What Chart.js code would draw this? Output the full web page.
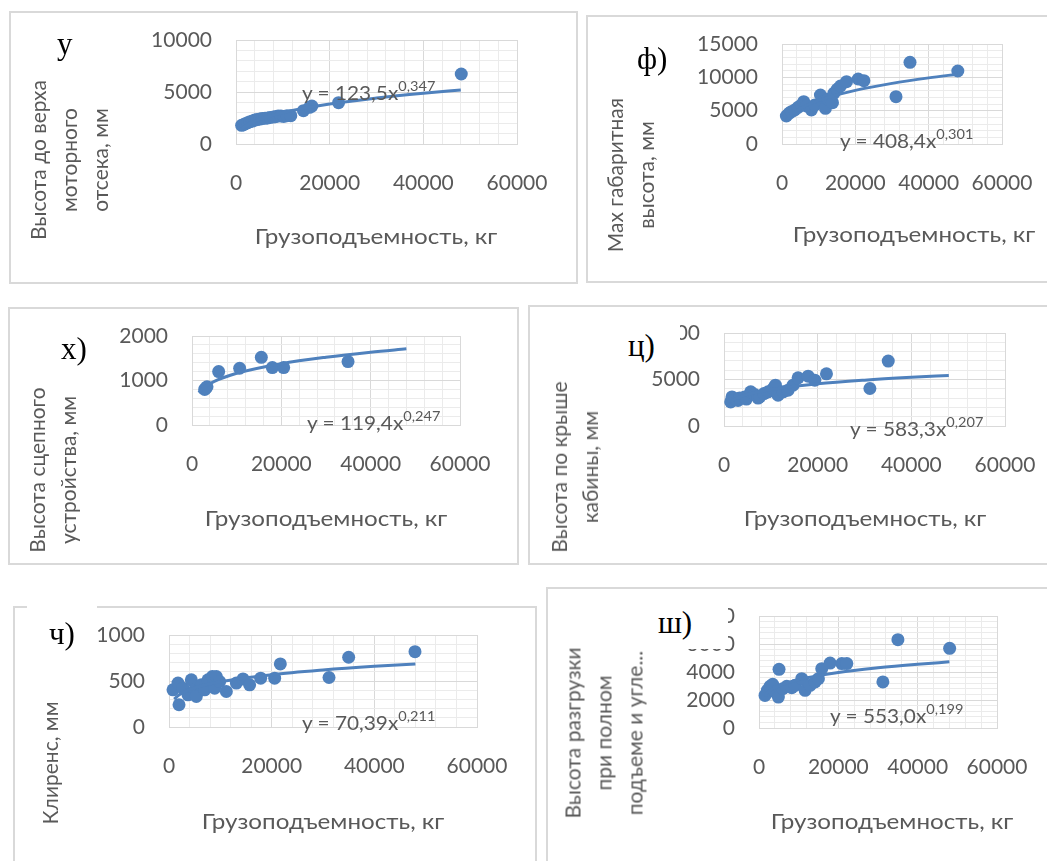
<!DOCTYPE html>
<html>
<head>
<meta charset="utf-8">
<script src="https://cdn.jsdelivr.net/npm/chart.js@4.4.1/dist/chart.umd.min.js"></script>
<style>
  body { margin: 0; width: 1047px; height: 861px; overflow: hidden; background: #fff; position: relative;
         font-family: Lato, 'Noto Sans', sans-serif; color: #595959; }
  .panel { position: absolute; border: 2px solid #d9d9d9; box-sizing: border-box; }
  canvas { position: absolute; }
  .ytitle { position: absolute; transform: translate(-50%, -50%) rotate(-90deg); white-space: nowrap;
            text-align: center; font-size: 21px; line-height: 31px; }
  .xtitle { position: absolute; transform: translate(-50%, -50%) scaleX(1.1); white-space: nowrap; font-size: 22px; }
  .eq { position: absolute; transform: translateY(-50%) scaleX(1.04); transform-origin: left center;
        white-space: nowrap; font-size: 20px; }
  .eq sup { font-size: 14px; vertical-align: baseline; position: relative; top: -9px; }
  .mask { position: absolute; background: #fff; }
  .letter { position: absolute; font-family: 'Liberation Serif', 'DejaVu Serif', serif; font-size: 31px;
            line-height: 31px; color: #000; white-space: nowrap; }
</style>
</head>
<body>
<script>
const xTickLabels = [0, 20000, 40000, 60000];

// у) высота до верха моторного отсека
const p1Load = [1200, 1600, 2000, 2500, 3000, 3500, 4000, 4500, 5100, 5600, 6200, 6800, 7300, 8000, 8400, 9000, 9600, 10200, 10900, 11700, 14400, 15700, 16200, 21900, 48100];
const p1Value = [1800, 1850, 1950, 2050, 2150, 2200, 2300, 2350, 2400, 2450, 2470, 2500, 2560, 2600, 2630, 2700, 2690, 2650, 2720, 2720, 3200, 3530, 3650, 3970, 6730];
const p1TrendLoad = [1200, 2000, 3000, 5000, 10000, 20000, 30000, 40000, 48000];
const p1TrendValue = [1446, 1726, 1987, 2373, 3017, 3838, 4418, 4883, 5200];
const p1YTicks = [0, 5000, 10000];

// ф) max габаритная высота
const p2Load = [1190, 1910, 2550, 3460, 4380, 5290, 5930, 6650, 8020, 8930, 10480, 11210, 11850, 12580, 13770, 14130, 15040, 15950, 17600, 20780, 22330, 31090, 34910, 47950];
const p2Value = [4200, 4600, 4850, 5100, 5500, 5850, 6350, 5700, 5100, 5850, 7350, 6350, 5350, 6700, 6200, 7600, 8200, 8700, 9350, 9750, 9500, 7100, 12250, 10950];
const p2TrendLoad = [1200, 2000, 3000, 5000, 10000, 20000, 30000, 40000, 48000];
const p2TrendValue = [3451, 4025, 4546, 5302, 6532, 8049, 9094, 9917, 10475];
const p2YTicks = [0, 5000, 10000, 15000];

// х) высота сцепного устройства
const p3Load = [2840, 3060, 3360, 5970, 10670, 15520, 17990, 20520, 34930];
const p3Value = [800, 825, 860, 1200, 1275, 1520, 1290, 1290, 1425];
const p3TrendLoad = [1500, 2000, 3000, 5000, 10000, 20000, 30000, 40000, 48000];
const p3TrendValue = [727, 780, 863, 979, 1162, 1378, 1523, 1636, 1711];
const p3YTicks = [0, 1000, 2000];

// ц) высота по крыше кабины
const p4Load = [1430, 1710, 2420, 2990, 3350, 4420, 4780, 5700, 6560, 7270, 7630, 8550, 9410, 10480, 10980, 11550, 12620, 13680, 14750, 15820, 17960, 19390, 21880, 31150, 35070];
const p4Value = [2590, 3130, 2880, 2750, 3020, 3130, 2900, 3670, 3380, 3000, 3130, 3490, 3670, 4030, 4390, 3310, 3670, 3850, 4390, 5180, 5360, 4930, 5610, 4030, 6980];
const p4TrendLoad = [1400, 2000, 3000, 5000, 10000, 20000, 30000, 40000, 48000];
const p4TrendValue = [2613, 2813, 3060, 3401, 3925, 4531, 4929, 5231, 5432];
const p4YTicks = [0, 5000, 10000];

// ч) клиренс
const p5Load = [780, 1750, 1950, 2730, 3700, 4350, 5000, 5320, 6300, 6950, 7600, 8440, 8900, 9220, 9870, 11170, 13120, 14420, 15710, 17860, 20580, 21690, 31170, 35000, 47920];
const p5Value = [404, 477, 242, 422, 350, 513, 404, 332, 458, 404, 513, 549, 422, 549, 494, 386, 477, 523, 458, 531, 531, 686, 538, 758, 819];
const p5TrendLoad = [1000, 2000, 3000, 5000, 10000, 20000, 30000, 40000, 48000];
const p5TrendValue = [302, 350, 381, 425, 491, 569, 620, 659, 684];
const p5YTicks = [0, 500, 1000];

// ш) высота разгрузки
const p6Load = [1520, 2100, 2780, 3450, 4040, 4880, 5050, 5980, 6990, 8250, 9090, 10770, 11620, 12880, 14140, 14980, 15820, 17930, 20880, 22140, 31230, 35020, 48060];
const p6Value = [2330, 2690, 2980, 3120, 2570, 2210, 4190, 2810, 2980, 2880, 3050, 3520, 2690, 3050, 3290, 3520, 4240, 4640, 4600, 4600, 3290, 6310, 5690];
const p6TrendLoad = [1500, 2000, 3000, 5000, 10000, 20000, 30000, 40000, 48000];
const p6TrendValue = [2370, 2510, 2721, 3012, 3457, 3968, 4302, 4555, 4724];
const p6YTicks = [0, 2000, 4000, 6000, 8000];

const BLUE = '#4f81bd';
const MAJOR = '#d9d9d9';
const MINOR = '#ebebeb';
const TEXT = '#595959';
const tickFont = { family: "Lato, 'Noto Sans', sans-serif", size: 21 };

// box = panel frame [left, top, width, height], plot = [left, top, right, bottom]
const panels = [
  { load: p1Load, value: p1Value, tLoad: p1TrendLoad, tValue: p1TrendValue, yTicks: p1YTicks, minor: 1000,
    box: [9, 11, 569, 273], plot: [236, 40, 517, 144],
    yTitle: ['Высота до верха', 'моторного', 'отсека, мм'], yTitlePos: [68, 160], xTitlePos: [376, 235],
    eq: ['123,5', '0,347'], eqPos: [302, 92],
    letter: 'у', letterPos: [57, 28], mask: null },
  { load: p2Load, value: p2Value, tLoad: p2TrendLoad, tValue: p2TrendValue, yTicks: p2YTicks, minor: 1000,
    box: [586, 15, 470, 268], plot: [782, 44, 1002, 144],
    yTitle: ['Мах габаритная', 'высота, мм'], yTitlePos: [630, 175], xTitlePos: [914, 233],
    eq: ['408,4', '0,301'], eqPos: [840, 140],
    letter: 'ф)', letterPos: [637, 43], mask: null },
  { load: p3Load, value: p3Value, tLoad: p3TrendLoad, tValue: p3TrendValue, yTicks: p3YTicks, minor: 200,
    box: [8, 307, 511, 258], plot: [192, 336, 460, 425],
    yTitle: ['Высота сцепного', 'устройства, мм'], yTitlePos: [52, 470], xTitlePos: [326, 517],
    eq: ['119,4', '0,247'], eqPos: [307, 422],
    letter: 'х)', letterPos: [61, 333], mask: null },
  { load: p4Load, value: p4Value, tLoad: p4TrendLoad, tValue: p4TrendValue, yTicks: p4YTicks, minor: 1000,
    box: [528, 305, 530, 260], plot: [724, 333, 1005, 426],
    yTitle: ['Высота по крыше', 'кабины, мм'], yTitlePos: [574, 467], xTitlePos: [865, 517],
    eq: ['583,3', '0,207'], eqPos: [850, 428],
    letter: 'ц)', letterPos: [628, 330], mask: [600, 316, 80, 52] },
  { load: p5Load, value: p5Value, tLoad: p5TrendLoad, tValue: p5TrendValue, yTicks: p5YTicks, minor: 100,
    box: [13, 606, 524, 270], plot: [169, 635, 477, 727],
    yTitle: ['Клиренс, мм'], yTitlePos: [49, 763], xTitlePos: [323, 820],
    eq: ['70,39', '0,211'], eqPos: [302, 722],
    letter: 'ч)', letterPos: [49, 618], mask: [27, 600, 70, 50] },
  { load: p6Load, value: p6Value, tLoad: p6TrendLoad, tValue: p6TrendValue, yTicks: p6YTicks, minor: 400,
    box: [546, 587, 510, 290], plot: [759, 616, 997, 728],
    yTitle: ['Высота разгрузки', 'при полном', 'подъеме и угле...'], yTitlePos: [603, 733], xTitlePos: [892, 820],
    eq: ['553,0', '0,199'], eqPos: [830, 715],
    letter: 'ш)', letterPos: [658, 607], mask: [650, 596, 78, 53] }
];

function addDiv(cls, html, left, top) {
  const d = document.createElement('div');
  d.className = cls;
  d.innerHTML = html;
  d.style.left = left + 'px';
  d.style.top = top + 'px';
  document.body.appendChild(d);
  return d;
}

function makePanel(p) {
  const [bx, by, bw, bh] = p.box;
  const frame = addDiv('panel', '', bx, by);
  frame.style.width = bw + 'px';
  frame.style.height = bh + 'px';

  const canvas = document.createElement('canvas');
  canvas.width = bw;
  canvas.height = bh;
  canvas.style.left = bx + 'px';
  canvas.style.top = by + 'px';
  document.body.appendChild(canvas);

  const yw = 100, xh = 60;
  const yMax = p.yTicks[p.yTicks.length - 1];
  const majorY = p.yTicks[1];
  // chart area in canvas coordinates
  const target = { left: p.plot[0] - bx, top: p.plot[1] - by, right: p.plot[2] - bx, bottom: p.plot[3] - by };

  const cfg = {
    type: 'scatter',
    data: {
      datasets: [
        {
          type: 'line',
          data: p.tLoad.map((x, i) => ({ x: x, y: p.tValue[i] })),
          borderColor: BLUE,
          borderWidth: 3,
          pointRadius: 0,
          fill: false,
          cubicInterpolationMode: 'monotone'
        },
        {
          data: p.load.map((x, i) => ({ x: x, y: p.value[i] })),
          backgroundColor: BLUE,
          borderColor: BLUE,
          pointRadius: 6.5,
          pointBorderWidth: 0,
          clip: false
        }
      ]
    },
    options: {
      responsive: false,
      animation: false,
      devicePixelRatio: 1,
      layout: {
        padding: {
          left: target.left - yw,
          top: target.top,
          right: bw - target.right,
          bottom: bh - target.bottom - xh
        }
      },
      plugins: { legend: { display: false }, tooltip: { enabled: false } },
      scales: {
        x: {
          type: 'linear',
          min: 0,
          max: 60000,
          afterFit: (s) => { s.height = xh; s.paddingLeft = 0; s.paddingRight = 0; },
          ticks: {
            stepSize: 4000, autoSkip: false, maxRotation: 0, padding: 27,
            color: TEXT, font: tickFont,
            callback: (v) => xTickLabels.includes(v) ? String(v) : ''
          },
          grid: {
            drawTicks: false,
            color: (c) => xTickLabels.includes(c.tick.value) ? MAJOR : MINOR
          },
          border: { color: MAJOR }
        },
        y: {
          type: 'linear',
          min: 0,
          max: yMax,
          afterFit: (s) => { s.width = yw; s.paddingTop = 0; s.paddingBottom = 0; },
          ticks: {
            stepSize: p.minor, autoSkip: false, padding: 24,
            color: TEXT, font: tickFont,
            callback: (v) => p.yTicks.includes(v) ? String(v) : ''
          },
          grid: {
            drawTicks: false,
            color: (c) => (c.tick.value % majorY === 0) ? MAJOR : MINOR
          },
          border: { color: MAJOR }
        }
      }
    }
  };
  const chart = new Chart(canvas, cfg);

  // nudge the padding so the plot area lands exactly where the reference has it
  const ca = chart.chartArea;
  const pad = cfg.options.layout.padding;
  pad.left += target.left - ca.left;
  pad.top += target.top - ca.top;
  pad.right += ca.right - target.right;
  pad.bottom += ca.bottom - target.bottom;
  chart.update();

  if (p.mask) {
    const m = addDiv('mask', '', p.mask[0], p.mask[1]);
    m.style.width = p.mask[2] + 'px';
    m.style.height = p.mask[3] + 'px';
  }
  addDiv('letter', p.letter, p.letterPos[0], p.letterPos[1]);
  addDiv('ytitle', p.yTitle.join('<br>'), p.yTitlePos[0], p.yTitlePos[1]);
  addDiv('xtitle', 'Грузоподъемность, кг', p.xTitlePos[0], p.xTitlePos[1]);
  addDiv('eq', 'y = ' + p.eq[0] + 'x<sup>' + p.eq[1] + '</sup>', p.eqPos[0], p.eqPos[1]);
}

panels.forEach(makePanel);
</script>
</body>
</html>
